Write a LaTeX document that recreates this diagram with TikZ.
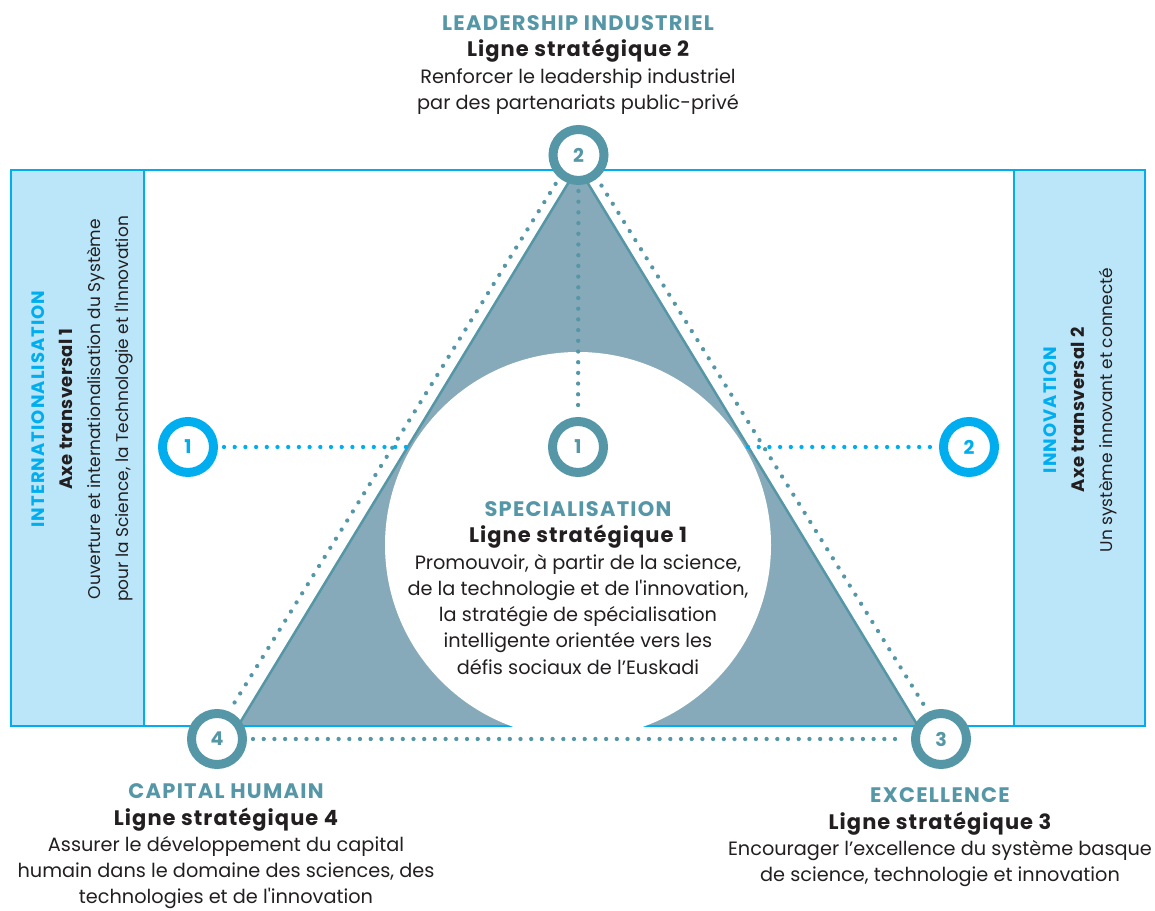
\documentclass[tikz,border=0pt]{standalone}
\usepackage{fontspec}
\setmainfont{Poppins}[Ligatures=TeXOff]
\usetikzlibrary{calc, positioning}
\definecolor{tealMain}{HTML}{5597A6}
\definecolor{triFill}{HTML}{86AAB9}
\definecolor{axeBlue}{HTML}{00AEEF}
\definecolor{panelBlue}{HTML}{BBE5F8}
\definecolor{inkBlack}{HTML}{231F20}
\newcommand{\headTeal}[1]{{\color{tealMain}\fontsize{21}{26.3}\selectfont\bfseries\addfontfeatures{LetterSpace=6}#1}}
\newcommand{\headBlue}[1]{{\color{axeBlue}\fontsize{18}{28}\selectfont\bfseries\addfontfeatures{LetterSpace=6}#1}}
\newcommand{\ligneBold}[1]{{\fontsize{21}{26.3}\selectfont\bfseries\addfontfeatures{LetterSpace=5}#1}}
\newcommand{\axeBold}[1]{{\fontsize{18}{28}\selectfont\bfseries\addfontfeatures{LetterSpace=2}#1}}

\begin{document}
\begin{tikzpicture}[x=1pt, y=1pt,
    ring/.style={circle, draw=tealMain, line width=9pt, fill=white, minimum size=51pt, inner sep=0pt, text=tealMain, font=\fontsize{19}{19}\selectfont\bfseries},
    axering/.style={ring, draw=axeBlue, text=axeBlue},
    tealdots/.style={tealMain, line width=4.3pt, line cap=round, dash pattern=on 0pt off 10.7pt},
    bluedots/.style={tealdots, axeBlue},
    txt/.style={align=center, text=inkBlack, font=\fontsize{19.3}{26.3}\selectfont},
    paneltxt/.style={txt, rotate=90, font=\fontsize{17}{28}\selectfont}]
    \useasboundingbox (0,0) rectangle (1155,910);
    \coordinate (apex) at (578,743);
    \coordinate (baseL) at (238,184);
    \coordinate (baseR) at (918,184);
    \coordinate (mid) at (578,365);
    \coordinate (edgeL) at (408,463);
    \coordinate (edgeR) at (748,463);

    \fill[panelBlue] (11,184) rectangle (144,740) (1014,184) rectangle (1145,740);
    \fill[triFill] (apex)--(baseL)--(baseR)--cycle;
    \draw[axeBlue, line width=2.5pt] (11,184) rectangle (1145,740) (144,184)--(144,740) (1014,184)--(1014,740);
    \begin{scope}
        \clip (0,182) rectangle (1155,910);
        \fill[white] (mid) circle (193);
    \end{scope}
    \draw[tealMain, line width=2.5pt, line join=round] (baseL)--(apex)--(baseR);

    \node[ring] (S2) at (578.5,755) {2};
    \node[ring] (S1) at (578,463) {1};
    \node[ring] (S4) at (217,171) {4};
    \node[ring] (S3) at (941,171) {3};
    \node[axering] (A1) at (188,463) {1};
    \node[axering] (A2) at (969,463) {2};

    \draw[tealdots, shorten <=6pt, shorten >=6pt] (S2) -- (S1);
    \draw[tealdots, shorten <=6pt, shorten >=6pt] (S4) -- (S3);
    \draw[tealdots, shorten <=34pt, shorten >=33pt] ([xshift=-5pt]S2.center) -- ([xshift=-5pt]S4.center);
    \draw[tealdots, shorten <=36pt, shorten >=36pt] ([xshift=4pt]S2.center) -- ([xshift=4pt]S3.center);
    \draw[bluedots, shorten <=6pt] (A1) -- (edgeL);
    \draw[bluedots, shorten >=6pt] (edgeR) -- (A2);

    \node[txt] (leader) at (578,845) {\headTeal{LEADERSHIP INDUSTRIEL}\\\ligneBold{Ligne stratégique 2}\\Renforcer le leadership industriel\\par des partenariats public-privé};
    \node[txt] (special) at (578,322) {\headTeal{SPECIALISATION}\\\ligneBold{Ligne stratégique 1}\\Promouvoir, à partir de la science,\\de la technologie et de l'innovation,\\la stratégie de spécialisation\\intelligente orientée vers les\\défis sociaux de l’Euskadi};
    \node[txt, inner sep=1pt] (capital) at (226,63.5) {\headTeal{CAPITAL HUMAIN}\\\ligneBold{Ligne stratégique 4}\\Assurer le développement du capital\\humain dans le domaine des sciences, des\\technologies et de l'innovation};
    \node[txt] (excel) at (940,72.5) {\headTeal{EXCELLENCE}\\\ligneBold{Ligne stratégique 3}\\Encourager l’excellence du système basque\\de science, technologie et innovation};
    \node[paneltxt] (inter) at (82,501) {\headBlue{INTERNATIONALISATION}\\\axeBold{Axe transversal 1}\\Ouverture et internationalisation du Système\\pour la Science, la Technologie et l'Innovation};
    \node[paneltxt] (innov) at (1080,500) {\headBlue{INNOVATION}\\\axeBold{Axe transversal 2}\\Un système innovant et connecté};
\end{tikzpicture}
\end{document}
